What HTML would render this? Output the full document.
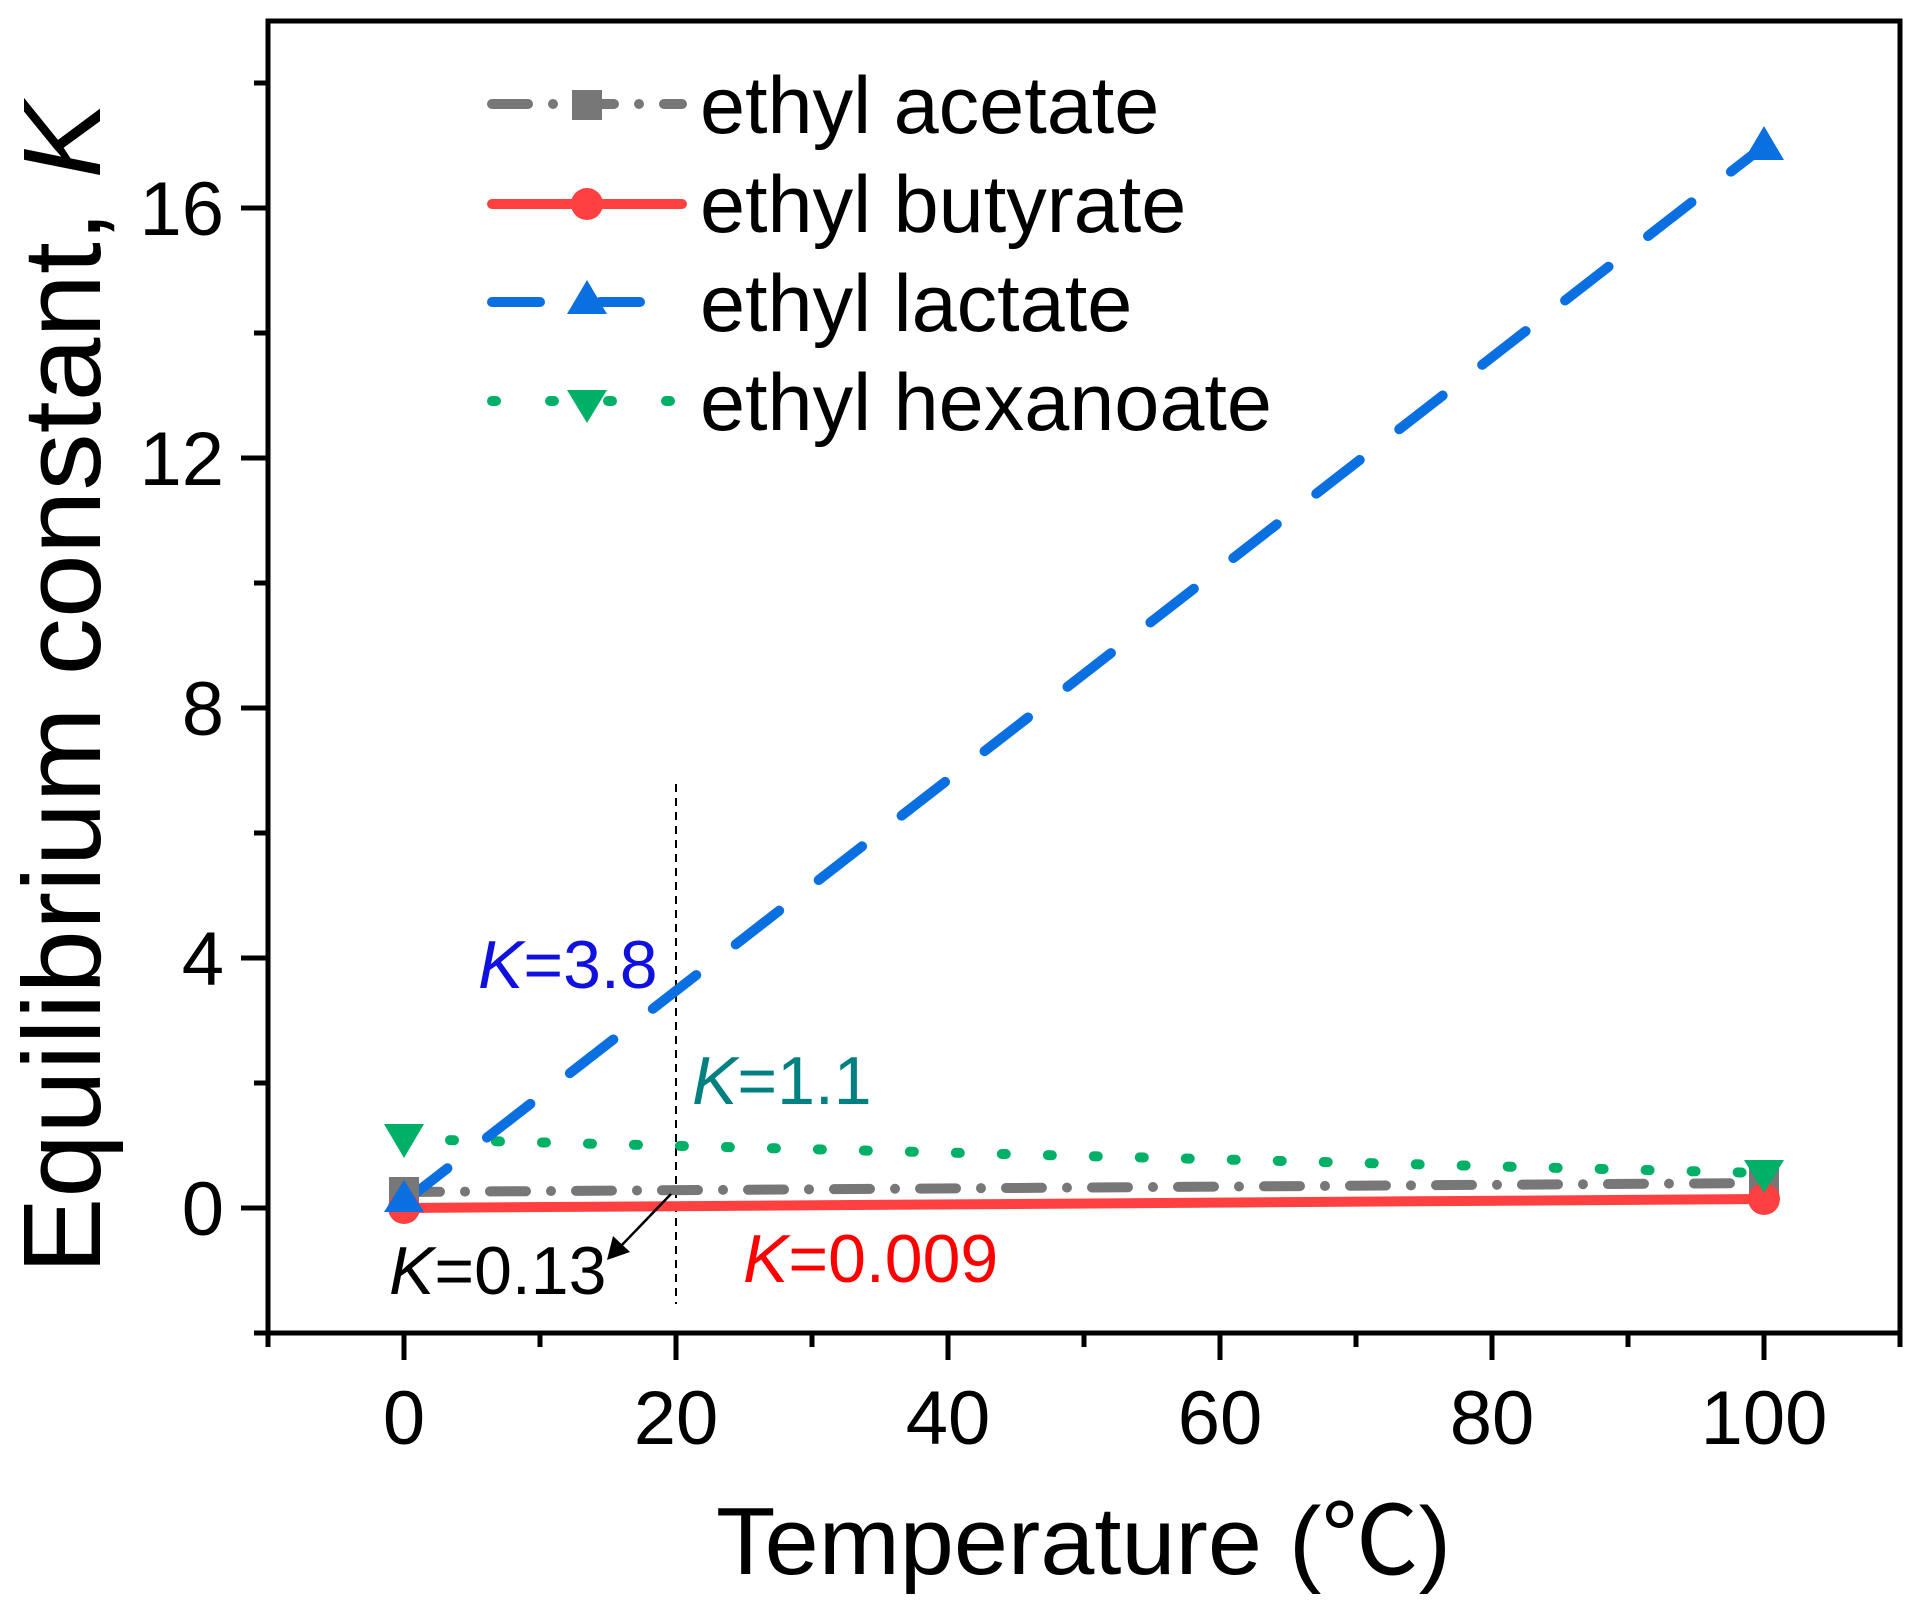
<!DOCTYPE html>
<html><head><meta charset="utf-8"><style>html,body{margin:0;padding:0;background:#fff}svg{display:block}</style></head>
<body>
<svg width="1920" height="1612" viewBox="0 0 1920 1612" xmlns="http://www.w3.org/2000/svg" font-family="Liberation Sans, sans-serif">
<rect width="1920" height="1612" fill="#fff"/>
<!-- ticks -->
<g stroke="#000" stroke-width="5">
<line x1="241" y1="1208" x2="268" y2="1208"/><line x1="241" y1="958" x2="268" y2="958"/><line x1="241" y1="708" x2="268" y2="708"/><line x1="241" y1="458" x2="268" y2="458"/><line x1="241" y1="208" x2="268" y2="208"/>
<line x1="254" y1="1333" x2="268" y2="1333"/><line x1="254" y1="1083" x2="268" y2="1083"/><line x1="254" y1="833" x2="268" y2="833"/><line x1="254" y1="583" x2="268" y2="583"/><line x1="254" y1="333" x2="268" y2="333"/><line x1="254" y1="83" x2="268" y2="83"/>
<line x1="404" y1="1333" x2="404" y2="1360"/><line x1="676" y1="1333" x2="676" y2="1360"/><line x1="948" y1="1333" x2="948" y2="1360"/><line x1="1220" y1="1333" x2="1220" y2="1360"/><line x1="1492" y1="1333" x2="1492" y2="1360"/><line x1="1764" y1="1333" x2="1764" y2="1360"/>
<line x1="268" y1="1333" x2="268" y2="1347"/><line x1="540" y1="1333" x2="540" y2="1347"/><line x1="812" y1="1333" x2="812" y2="1347"/><line x1="1084" y1="1333" x2="1084" y2="1347"/><line x1="1356" y1="1333" x2="1356" y2="1347"/><line x1="1628" y1="1333" x2="1628" y2="1347"/><line x1="1900" y1="1333" x2="1900" y2="1347"/>
</g>
<rect x="268" y="21" width="1632" height="1312" fill="none" stroke="#000" stroke-width="5"/>
<!-- tick labels -->
<g font-size="76" fill="#000">
<g text-anchor="end"><text x="224" y="1235">0</text><text x="224" y="985">4</text><text x="224" y="735">8</text><text x="224" y="485">12</text><text x="224" y="235">16</text></g>
<g text-anchor="middle"><text x="404" y="1444">0</text><text x="676" y="1444">20</text><text x="948" y="1444">40</text><text x="1220" y="1444">60</text><text x="1492" y="1444">80</text><text x="1764" y="1444">100</text></g>
</g>
<text x="716" y="1574" font-size="96" textLength="735" lengthAdjust="spacingAndGlyphs" font-family="Liberation Sans, Noto Sans CJK SC, sans-serif">Temperature (℃)</text>
<text transform="translate(100,1274) rotate(-90)" font-size="110" textLength="1172" lengthAdjust="spacingAndGlyphs">Equilibrium constant, <tspan font-style="italic">K</tspan></text>
<!-- annotation line -->
<line x1="676" y1="784" x2="676" y2="1304" stroke="#000" stroke-width="2" stroke-dasharray="8,6"/>
<!-- series -->
<line x1="404" y1="1192" x2="1764" y2="1183" stroke="#777" stroke-width="10" stroke-linecap="round" stroke-dasharray="36,25,0,25"/>
<line x1="404" y1="1208" x2="1764" y2="1199" stroke="#FF4040" stroke-width="10"/>
<line x1="404" y1="1139" x2="1764" y2="1173" stroke="#00B067" stroke-width="10" stroke-linecap="round" stroke-dasharray="4,42"/>
<line x1="404" y1="1202" x2="1764" y2="146" stroke="#0A6FE0" stroke-width="10" stroke-linecap="round" stroke-dasharray="55,50"/>
<rect x="389" y="1177" width="30" height="30" fill="#777"/>
<circle cx="404" cy="1208" r="16" fill="#FF4040"/>
<polygon points="384,1212 424,1212 404,1180" fill="#0A6FE0"/>
<polygon points="384,1124 424,1124 404,1158" fill="#00B067"/>
<rect x="1749" y="1165" width="30" height="30" fill="#777"/>
<circle cx="1764" cy="1199" r="16" fill="#FF4040"/>
<polygon points="1744,1160 1784,1160 1764,1193" fill="#00B067"/>
<polygon points="1744,160 1784,160 1764,126" fill="#0A6FE0"/>
<!-- arrow -->
<line x1="671" y1="1194" x2="620" y2="1247" stroke="#000" stroke-width="2.5"/>
<polygon points="607,1260 613,1236 630,1252" fill="#000"/>
<!-- annotations -->
<g font-size="68">
<text x="478" y="988" fill="#1010E0"><tspan font-style="italic">K</tspan>=3.8</text>
<text x="692" y="1104" fill="#008080"><tspan font-style="italic">K</tspan>=1.1</text>
<text x="389" y="1294" fill="#000"><tspan font-style="italic">K</tspan>=0.13</text>
<text x="743" y="1282" fill="#FF0000"><tspan font-style="italic">K</tspan>=0.009</text>
</g>
<!-- legend -->
<line x1="492" y1="104" x2="682" y2="104" stroke="#777" stroke-width="10" stroke-linecap="round" stroke-dasharray="36,25,0,25"/>
<rect x="572" y="90" width="30" height="30" fill="#777"/>
<line x1="492" y1="204" x2="682" y2="204" stroke="#FF4040" stroke-width="10" stroke-linecap="round"/>
<circle cx="587" cy="204" r="16" fill="#FF4040"/>
<line x1="492" y1="302" x2="540" y2="302" stroke="#0A6FE0" stroke-width="10" stroke-linecap="round"/>
<line x1="600" y1="302" x2="640" y2="302" stroke="#0A6FE0" stroke-width="10" stroke-linecap="round"/>
<polygon points="567,314 607,314 587,280" fill="#0A6FE0"/>
<line x1="492" y1="401" x2="682" y2="401" stroke="#00B067" stroke-width="10" stroke-linecap="round" stroke-dasharray="4,54"/>
<polygon points="567,390 607,390 587,423" fill="#00B067"/>
<g font-size="81" fill="#000">
<text x="700" y="133">ethyl acetate</text>
<text x="700" y="232">ethyl butyrate</text>
<text x="700" y="331">ethyl lactate</text>
<text x="700" y="430">ethyl hexanoate</text>
</g>
</svg>
</body></html>
